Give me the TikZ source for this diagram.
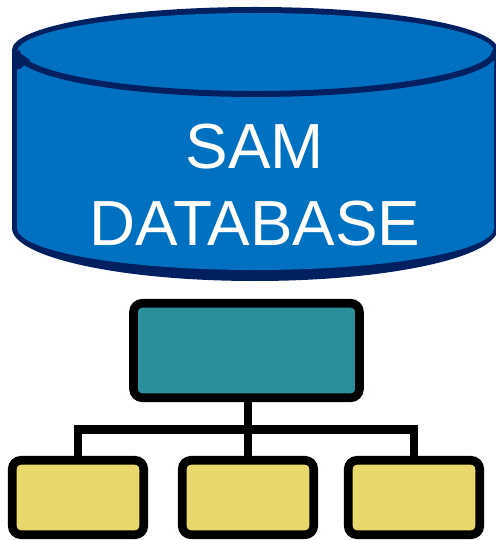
\documentclass[tikz,border=0pt]{standalone}
\usepackage{fontspec}
\setmainfont{Liberation Sans}
\definecolor{samblue}{HTML}{0070C0}
\definecolor{samnavy}{HTML}{002060}
\definecolor{rootteal}{HTML}{2A8F9A}
\definecolor{leafyellow}{HTML}{E8D76B}
\tikzset{
 rootbox/.style={draw=black, fill=rootteal, line width=4.9pt, rounded corners=5pt, minimum width=4.52cm, minimum height=1.89cm, inner sep=0pt},
 leafbox/.style={draw=black, fill=leafyellow, line width=4.9pt, rounded corners=5pt, minimum width=2.63cm, minimum height=1.49cm, inner sep=0pt},
 link/.style={draw=black, line width=5pt},
}
\begin{document}
\begin{tikzpicture} [x=.02cm, y=-.02cm]
\useasboundingbox (0,0) rectangle (496,540);
% database
\fill[samnavy] (12,50) --(12,228) arc[start angle=180, end angle=0, x radius=243, y radius=53] --(498,50) arc[start angle=0, end angle=-180, x radius=243, y radius=43] --cycle;
\fill[samblue] (17,52) --(17,228) arc[start angle=180, end angle=0, x radius=238.5, y radius=42] --(494,52) arc[start angle=0, end angle=-180, x radius=238.5, y radius=39] --cycle;
\draw[samnavy, line width=3.4pt] (17,51) arc[start angle=180, end angle=0, x radius=239, y radius=43];
\fill[samnavy] (14,49) --(30,60) --(20,69) --(14,70) --cycle;
\node[white, align=center, font=\fontsize{36.3}{44}\selectfont] (dbtext) at (255,185) {SAM\\DATABASE};
% tree
\node[rootbox] (root) at (246.5,350.5) {};
\node[leafbox] (leafa) at (78,497.5) {};
\node[leafbox] (leafb) at (248,497.5) {};
\node[leafbox] (leafc) at (414,497.5) {};
\coordinate (hub) at (248,429.5);
\draw[link] (hub |- root.south) --(leafb.north);
\draw[link] (hub) -|(leafa.north);
\draw[link] (hub) -|(leafc.north);
\end{tikzpicture}
\end{document}
